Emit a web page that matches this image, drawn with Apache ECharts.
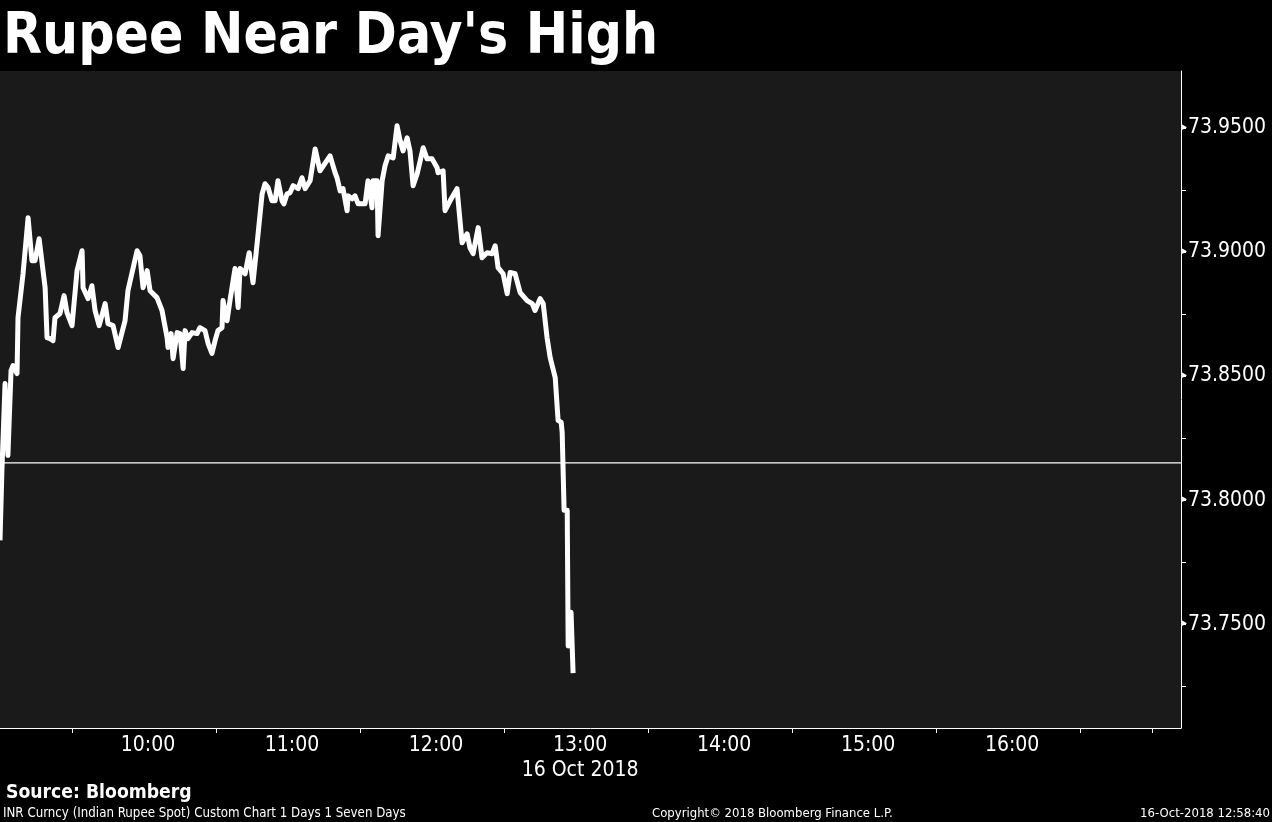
<!DOCTYPE html>
<html>
<head>
<meta charset="utf-8">
<script src="https://cdn.jsdelivr.net/npm/echarts@6/dist/echarts.min.js"></script>
<style>
html,body{margin:0;padding:0;background:#000;}
#chart{width:1272px;height:822px;}
</style>
</head>
<body>
<div id="chart"></div>
<script>
// Minutes after 09:00 on 16 Oct 2018
const minutes = [0,0.8,2.1,3.3,4.6,5.4,7.1,7.5,9.6,11.7,13.3,14.6,16.3,18.8,19.6,20.8,22.1,22.9,25.0,26.7,27.9,30.0,32.1,34.2,34.6,36.7,38.3,39.6,41.3,43.8,45.0,47.1,49.2,52.1,53.3,57.1,58.3,59.6,61.3,62.5,65.4,67.5,69.6,70.0,71.3,72.1,73.8,75.0,76.3,77.1,78.3,80.0,82.1,83.3,85.4,86.7,88.3,89.6,90.8,92.5,92.9,94.6,95.8,97.9,99.2,100.0,102.1,103.8,105.4,107.1,109.2,110.4,111.7,113.3,114.6,115.8,117.5,118.3,119.6,120.8,122.1,124.2,125.8,127.1,129.2,131.3,133.3,137.5,139.6,140.4,141.7,142.9,144.6,145.0,146.7,147.9,149.2,152.1,153.3,155.0,155.4,157.1,157.5,159.2,160.4,161.7,163.8,165.4,166.7,167.9,169.6,170.8,172.1,173.8,176.3,177.9,180.0,182.1,182.5,184.6,185.4,187.5,190.4,192.5,194.6,195.8,197.1,199.2,200.8,202.9,205.0,206.3,207.5,209.6,211.3,212.5,214.6,216.7,219.6,221.7,222.9,225.0,226.3,227.9,229.2,231.3,232.5,233.8,234.2,235.0,236.3,236.7,237.5,237.9,238.75];
const rates = [73.7838,73.8120,73.8470,73.8180,73.8522,73.8542,73.8510,73.8735,73.8912,73.9138,73.8965,73.8965,73.9053,73.8856,73.8655,73.8651,73.8643,73.8735,73.8752,73.8824,73.8756,73.8703,73.8925,73.9005,73.8856,73.8812,73.8864,73.8764,73.8703,73.8792,73.8711,73.8703,73.8615,73.8723,73.8844,73.9005,73.8985,73.8856,73.8925,73.8844,73.8816,73.8764,73.8655,73.8615,73.8671,73.8570,73.8675,73.8671,73.8530,73.8683,73.8651,73.8675,73.8671,73.8695,73.8683,73.8631,73.8591,73.8643,73.8683,73.8695,73.8804,73.8723,73.8804,73.8933,73.8776,73.8933,73.8912,73.8997,73.8876,73.9033,73.9234,73.9275,73.9259,73.9206,73.9206,73.9287,73.9206,73.9194,73.9234,73.9238,73.9267,73.9255,73.9299,73.9255,73.9287,73.9415,73.9327,73.9387,73.9319,73.9299,73.9246,73.9255,73.9166,73.9226,73.9214,73.9226,73.9194,73.9194,73.9287,73.9178,73.9287,73.9287,73.9065,73.9287,73.9347,73.9387,73.9379,73.9508,73.9448,73.9407,73.9460,73.9407,73.9267,73.9315,73.9420,73.9375,73.9375,73.9339,73.9319,73.9327,73.9166,73.9206,73.9255,73.9037,73.9073,73.9017,73.8993,73.9098,73.8977,73.8997,73.8993,73.9025,73.8937,73.8912,73.8832,73.8917,73.8912,73.8836,73.8804,73.8792,73.8764,73.8812,73.8792,73.8655,73.8574,73.8494,73.8321,73.8313,73.8273,73.7959,73.7959,73.7412,73.7412,73.7548,73.7303];
const previousClose = 73.815;
const hourLabels = [60,120,180,240,300,360,420];         // 10:00 .. 16:00
const timeTicks = [30,90,150,210,270,330,390,450,480];
const rateLabels = [73.75,73.80,73.85,73.90,73.95];
const rateTicks = [73.725,73.75,73.775,73.80,73.825,73.85,73.875,73.90,73.925,73.95];
const dateLabel = '16 Oct 2018';
const titleText = "Rupee Near Day's High";
const sourceText = 'Source: Bloomberg';
const footLeft = 'INR Curncy (Indian Rupee Spot) Custom Chart 1 Days 1 Seven Days';
const footMid = 'Copyright\u00A9 2018 Bloomberg Finance L.P.';
const footRight = '16-Oct-2018 12:58:40';

const X_MIN = 0, X_MAX = 492;
const FONT = '"DejaVu Sans Condensed", "DejaVu Sans", sans-serif';
const chart = echarts.init(document.getElementById('chart'), null, {renderer: 'canvas'});

function fmtTime(m) {
  const h = 9 + Math.floor(m / 60);
  const mm = Math.round(m % 60);
  return h + ':' + (mm < 10 ? '0' : '') + mm;
}

chart.setOption({
  backgroundColor: '#000000',
  animation: false,
  title: [
    {text: titleText, left: 3, top: 10, padding: 0, textStyle: {color: '#fff', fontSize: 56.4, fontWeight: 'bold', fontFamily: FONT}},
    {text: sourceText, left: 6, top: 784, padding: 0, textStyle: {color: '#fff', fontSize: 19.2, fontWeight: 'bold', fontFamily: FONT}},
    {text: footLeft, left: 3, top: 807, padding: 0, textStyle: {color: '#fff', fontSize: 13.2, fontWeight: 'normal', fontFamily: FONT}},
    {text: footMid, left: 652, top: 807, padding: 0, textStyle: {color: '#fff', fontSize: 13, fontWeight: 'normal', fontFamily: FONT}},
    {text: footRight, right: 2, top: 807, padding: 0, textStyle: {color: '#fff', fontSize: 13, fontWeight: 'normal', fontFamily: FONT}}
  ],
  grid: {left: 0, right: 91, top: 71, bottom: 94, show: true, backgroundColor: '#1a1a1a', borderWidth: 0, containLabel: false, outerBoundsMode: 'none'},
  xAxis: {
    type: 'value', min: X_MIN, max: X_MAX,
    axisLine: {show: true, onZero: false, lineStyle: {color: '#ffffff', width: 1}},
    axisTick: {show: true, customValues: timeTicks, length: 5, inside: false, lineStyle: {color: '#ffffff'}},
    axisLabel: {
      customValues: hourLabels, color: '#ffffff', fontSize: 21, fontFamily: FONT, margin: 5,
      padding: [0, 0, 0, 8], lineHeight: 25,
      formatter: function (v) { return v === 240 ? fmtTime(v) + '\n' + dateLabel : fmtTime(v); }
    },
    splitLine: {show: false}
  },
  yAxis: {
    type: 'value', position: 'right', min: 73.7082, max: 73.9729, scale: true,
    axisLine: {show: true, onZero: false, lineStyle: {color: '#ffffff', width: 1}},
    axisTick: {show: true, customValues: rateTicks, length: 5, lineStyle: {color: '#ffffff'}},
    axisLabel: {
      customValues: rateLabels, color: '#ffffff', fontSize: 21, fontFamily: FONT, margin: 1,
      formatter: function (v) { return '{t|\u25B8}' + v.toFixed(4); },
      rich: {t: {fontSize: 11, color: '#ffffff', padding: [0, 1, 2, 0]}}
    },
    splitLine: {show: false}
  },
  series: [{
    type: 'line',
    data: [[X_MIN, previousClose], [X_MAX, previousClose]],
    showSymbol: false,
    symbol: 'none',
    lineStyle: {color: '#ffffff', width: 1.4},
    silent: true,
    z: 1
  }, {
    type: 'line',
    data: minutes.map((m, i) => [m, rates[i]]),
    showSymbol: false,
    symbol: 'none',
    lineStyle: {color: '#ffffff', width: 5, join: 'round'},
    silent: true,
    z: 2
  }]
});
</script>
</body>
</html>
